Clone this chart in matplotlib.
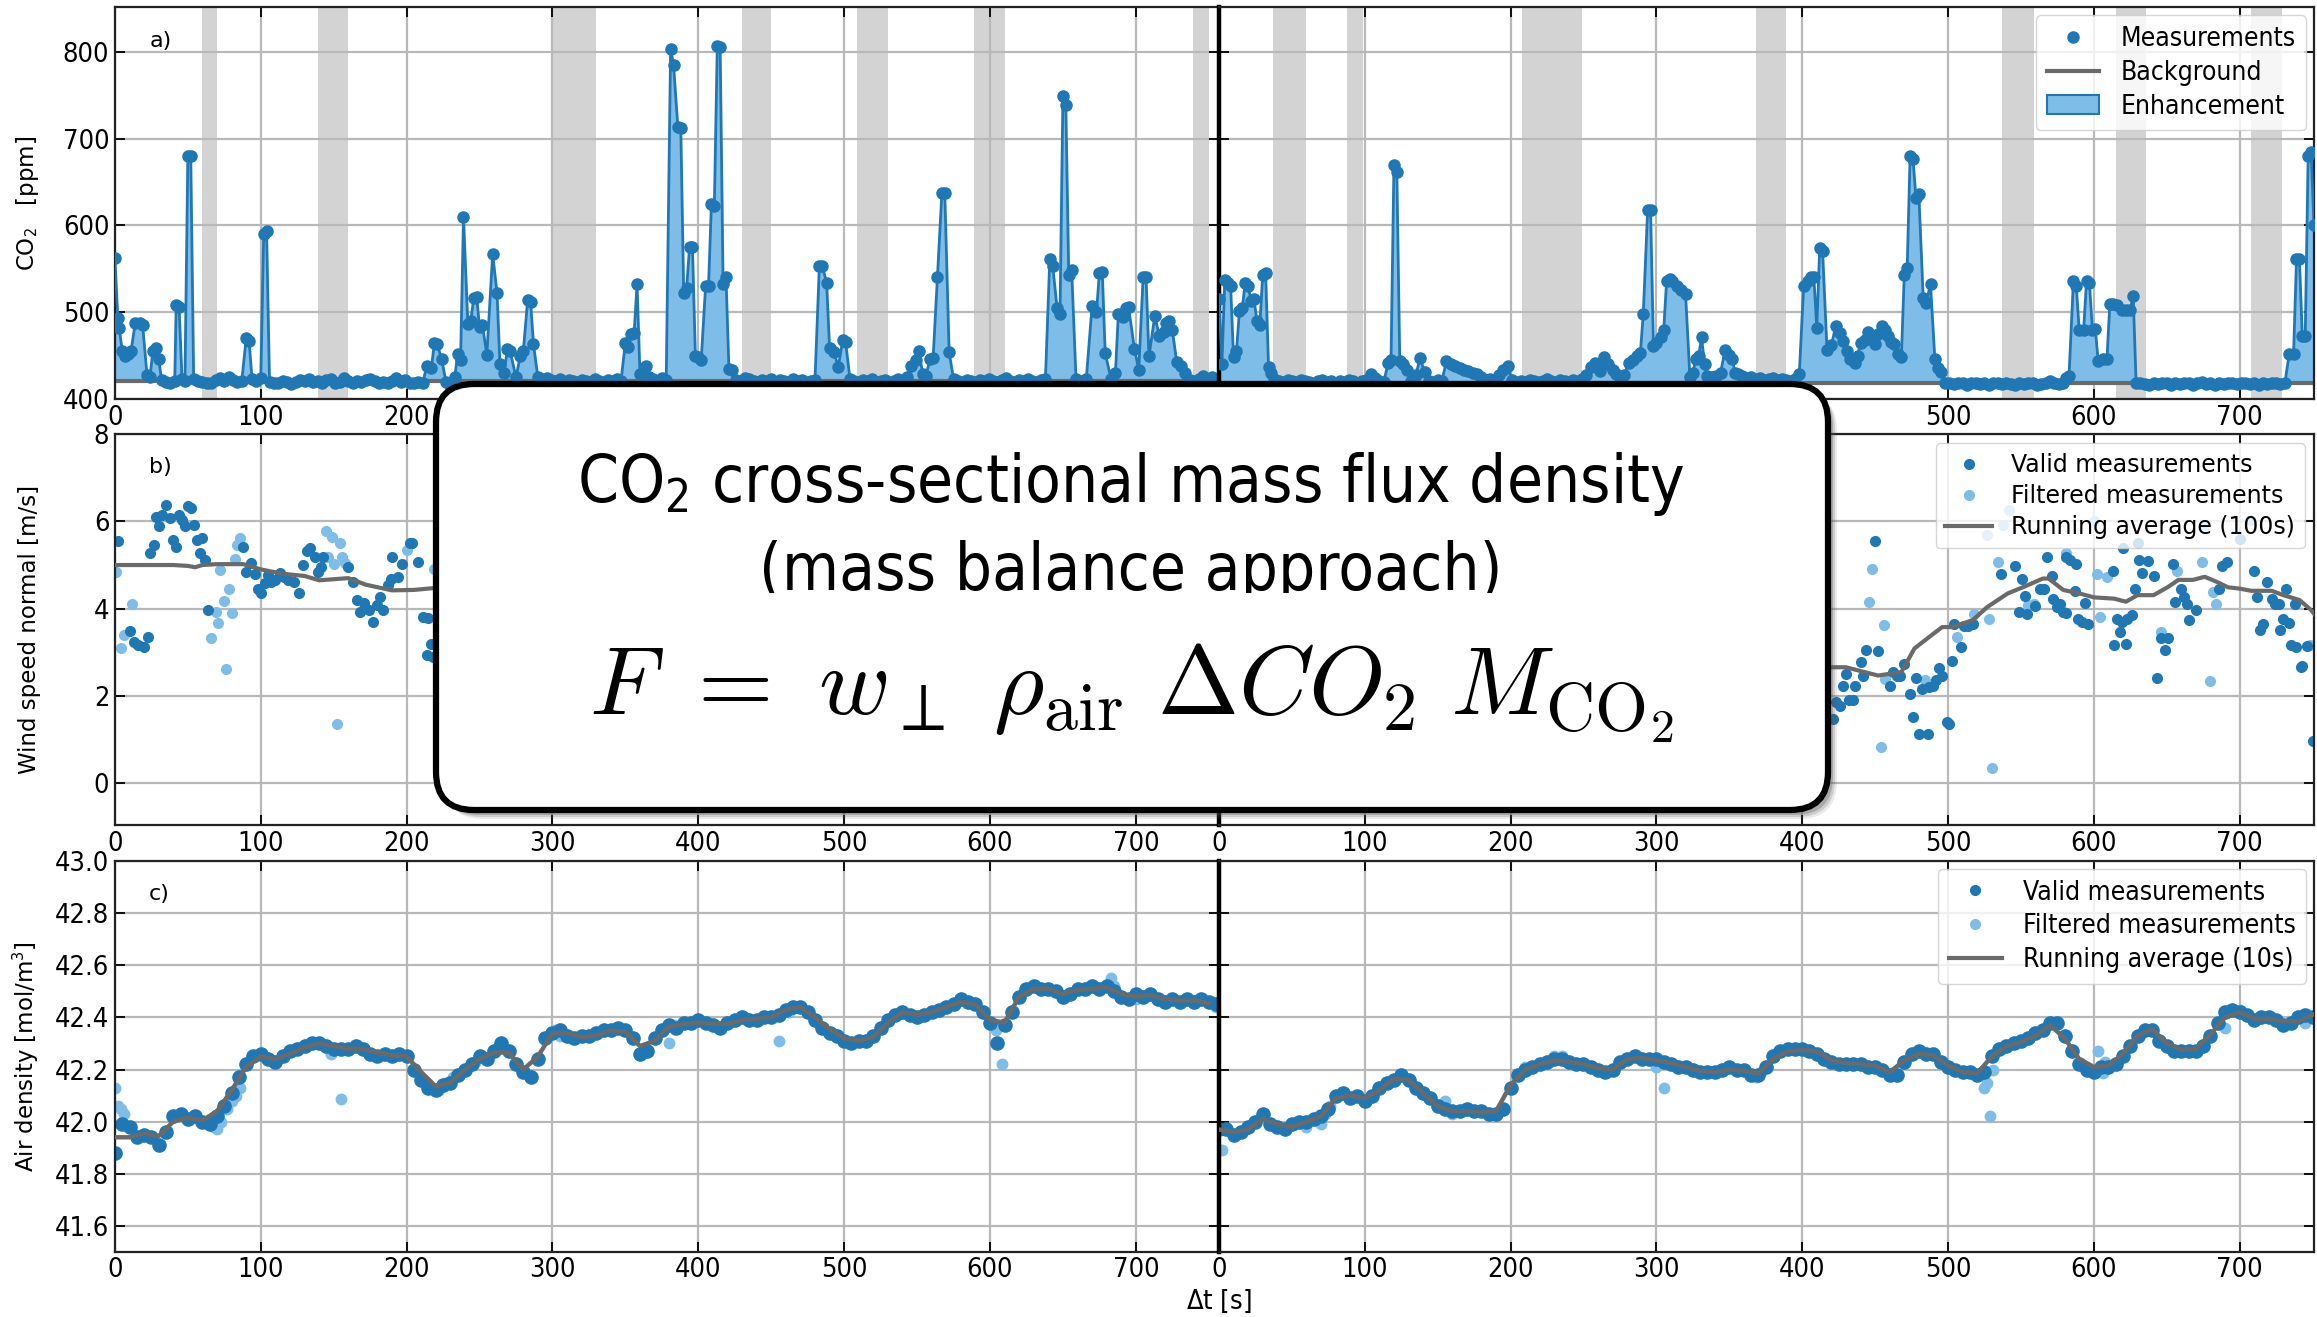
import matplotlib
matplotlib.use("Agg")
import matplotlib.pyplot as plt
import numpy as np
from matplotlib.lines import Line2D
from matplotlib.patches import Patch, FancyBboxPatch, Rectangle

plt.rcParams['font.family'] = ['DejaVu Sans']
plt.rcParams['font.stretch'] = 'condensed'
plt.rcParams['mathtext.fontset'] = 'custom'
plt.rcParams['mathtext.rm'] = 'DejaVu Sans:stretch=condensed'
plt.rcParams['mathtext.it'] = 'DejaVu Sans:stretch=condensed:style=oblique'
plt.rcParams['mathtext.bf'] = 'DejaVu Sans:stretch=condensed:weight=bold'

# ---------------- data ----------------
xmax_left = 757
xmax_right = 751

# panel a) CO2 [ppm]
co2_t_left = [0, 2, 3, 5, 7, 9, 11, 14, 17, 19, 22, 24, 26, 28, 30, 32, 35, 38, 41, 42, 44, 46, 48, 50, 52, 54,
              57, 60, 63, 66, 69, 72, 75, 78, 81, 84, 87, 90, 92, 94, 97, 100, 102, 104, 106, 109, 112, 115, 118,
              121, 124, 127, 130, 133, 136, 139, 142, 145, 148, 151, 154, 157, 160, 163, 166, 169, 172, 175, 178,
              181, 184, 187, 190, 193, 196, 199, 202, 205, 208, 211, 214, 217, 219, 221, 224, 227, 230, 233, 235,
              237, 239, 242, 244, 246, 248, 250, 252, 255, 259, 262, 264, 267, 269, 271, 275, 278, 280, 283, 285,
              287, 290, 293, 296, 299, 302, 305, 308, 311, 314, 317, 320, 323, 326, 329, 332, 335, 338, 341, 344,
              347, 350, 352, 354, 356, 358, 360, 362, 364, 366, 369, 372, 375, 378, 381, 383, 386, 388, 390, 392,
              394, 396, 398, 400, 402, 405, 407, 409, 411, 413, 415, 417, 419, 421, 423, 426, 429, 432, 435, 438,
              441, 444, 447, 450, 453, 456, 459, 462, 465, 468, 471, 474, 477, 480, 483, 485, 488, 490, 493, 496,
              499, 501, 504, 507, 510, 513, 516, 519, 522, 525, 528, 531, 534, 537, 540, 543, 546, 549, 551, 554,
              556, 559, 561, 564, 567, 569, 572, 575, 578, 581, 584, 587, 590, 593, 596, 599, 602, 605, 608, 611,
              614, 617, 620, 623, 626, 629, 632, 635, 638, 641, 643, 646, 648, 650, 652, 654, 656, 659, 662, 666,
              670, 673, 675, 677, 679, 683, 686, 688, 691, 693, 695, 699, 702, 705, 707, 709, 713, 716, 719, 721,
              723, 725, 728, 731, 734, 737, 740, 743, 746, 749, 752, 755]
co2_v_left = [562, 493, 482, 455, 450, 452, 455, 488, 487, 485, 428, 425, 455, 459, 446, 422, 420, 419, 421, 508,
              506, 423, 421, 680, 680, 423, 421, 420, 418, 419, 422, 424, 421, 425, 422, 420, 421, 470, 467, 423,
              421, 424, 590, 593, 420, 419, 418, 421, 420, 417, 420, 422, 421, 423, 420, 421, 419, 422, 423, 418,
              420, 424, 421, 419, 421, 420, 422, 423, 421, 419, 420, 418, 421, 424, 420, 422, 419, 418, 420, 419,
              438, 436, 464, 463, 446, 420, 416, 425, 452, 445, 610, 486, 490, 516, 518, 483, 485, 451, 567, 522,
              440, 430, 458, 455, 425, 450, 455, 514, 512, 463, 425, 423, 424, 422, 421, 423, 420, 422, 421, 420,
              422, 421, 420, 423, 421, 420, 422, 421, 423, 421, 465, 460, 475, 476, 533, 429, 430, 438, 425, 423,
              421, 424, 422, 803, 785, 713, 712, 522, 528, 575, 575, 450, 448, 445, 530, 530, 625, 622, 806, 805,
              532, 540, 435, 433, 422, 421, 424, 423, 421, 420, 422, 421, 423, 420, 422, 421, 420, 423, 421, 422,
              420, 421, 422, 553, 553, 534, 459, 454, 437, 468, 466, 423, 421, 420, 422, 421, 423, 420, 421, 422,
              420, 421, 423, 421, 425, 438, 445, 455, 429, 427, 446, 447, 541, 637, 637, 454, 423, 421, 420, 422,
              421, 420, 422, 421, 423, 421, 420, 422, 424, 421, 420, 422, 421, 423, 421, 420, 422, 423, 561, 553,
              505, 498, 749, 739, 543, 549, 423, 421, 423, 507, 500, 545, 546, 453, 423, 430, 498, 494, 505, 506,
              458, 434, 540, 540, 449, 496, 473, 477, 488, 490, 480, 443, 438, 430, 422, 421, 423, 427, 421, 425,
              423]
co2_t_right = [0, 2, 4, 6, 8, 10, 12, 14, 16, 18, 20, 22, 24, 26, 28, 30, 32, 34, 36, 38, 41, 44, 47, 50, 53, 56,
               59, 62, 65, 68, 71, 74, 77, 80, 83, 86, 89, 92, 95, 98, 101, 104, 107, 110, 113, 116, 118, 120, 122,
               124, 126, 129, 132, 135, 138, 141, 144, 147, 150, 153, 156, 159, 162, 165, 168, 171, 174, 177, 180,
               183, 186, 189, 192, 195, 198, 201, 204, 207, 210, 213, 216, 219, 222, 225, 228, 231, 234, 237, 240,
               243, 246, 249, 252, 255, 258, 261, 264, 267, 270, 272, 275, 278, 281, 284, 287, 289, 291, 294, 296,
               298, 300, 303, 305, 307, 309, 311, 314, 317, 320, 323, 325, 327, 329, 331, 333, 335, 338, 341, 344,
               347, 350, 352, 354, 356, 359, 362, 365, 368, 371, 374, 377, 380, 383, 386, 389, 392, 395, 398, 401,
               404, 406, 408, 410, 412, 414, 417, 420, 423, 426, 428, 431, 433, 436, 438, 440, 443, 445, 448, 450,
               452, 455, 457, 459, 461, 463, 466, 468, 470, 472, 474, 476, 478, 480, 483, 485, 488, 491, 493, 495,
               498, 501, 504, 507, 510, 513, 516, 519, 522, 525, 528, 531, 534, 537, 540, 543, 546, 549, 552, 555,
               558, 561, 564, 567, 570, 573, 576, 579, 581, 583, 586, 588, 590, 593, 595, 597, 599, 601, 603, 606,
               609, 611, 613, 616, 619, 622, 625, 627, 629, 632, 635, 638, 641, 644, 647, 650, 653, 656, 659, 662,
               665, 668, 671, 674, 677, 680, 683, 686, 689, 692, 695, 698, 701, 704, 707, 710, 713, 716, 719, 722,
               725, 728, 731, 734, 737, 739, 741, 743, 745, 747, 749, 751]
co2_v_right = [515, 440, 537, 534, 530, 448, 455, 501, 505, 534, 530, 513, 515, 490, 485, 543, 545, 437, 430, 423,
               421, 420, 422, 421, 420, 422, 421, 420, 419, 421, 422, 420, 421, 419, 421, 420, 422, 421, 419, 421,
               422, 429, 424, 421, 420, 441, 445, 670, 661, 444, 440, 434, 421, 428, 447, 431, 421, 420, 422, 421,
               444, 440, 438, 436, 434, 432, 430, 429, 425, 422, 423, 421, 428, 433, 438, 422, 420, 421, 420, 422,
               421, 420, 421, 423, 421, 420, 422, 421, 420, 422, 421, 423, 428, 437, 441, 432, 448, 440, 433, 429,
               425, 428, 442, 445, 450, 453, 498, 618, 618, 461, 465, 471, 479, 536, 538, 536, 530, 526, 521, 425,
               430, 446, 450, 471, 440, 427, 425, 426, 430, 456, 451, 446, 430, 429, 426, 424, 425, 423, 424, 422,
               423, 424, 422, 423, 422, 421, 423, 429, 530, 536, 540, 540, 482, 574, 570, 457, 462, 484, 476, 467,
               455, 446, 442, 450, 465, 468, 477, 470, 463, 475, 484, 479, 473, 466, 463, 452, 448, 543, 551, 680,
               676, 632, 636, 516, 511, 532, 446, 436, 431, 419, 418, 417, 419, 418, 416, 418, 419, 417, 418, 416,
               418, 419, 417, 418, 417, 416, 418, 417, 419, 418, 416, 417, 418, 421, 418, 417, 419, 424, 427, 536,
               530, 479, 479, 536, 534, 480, 481, 444, 446, 446, 510, 510, 508, 503, 503, 503, 519, 419, 418, 417,
               416, 418, 417, 419, 418, 416, 418, 417, 419, 418, 416, 418, 420, 417, 418, 416, 418, 417, 419, 418,
               417, 419, 418, 417, 418, 416, 418, 417, 418, 419, 417, 418, 452, 452, 561, 561, 473, 473, 680, 685,
               600]
co2_bg_left = 421.0
co2_bg_right = 419.0
# excluded intervals (grey bands) [s]
gaps_left = [(60, 70), (139, 160), (300, 330), (430, 450), (509, 530), (589, 610), (739, 750)]
gaps_right = [(37, 60), (88, 99), (208, 249), (368, 389), (537, 559), (615, 636), (708, 729)]

# panel b) wind speed normal [m/s]
ws_valid_t_left = [2, 10, 13, 16, 20, 23, 24, 27, 28, 30, 32, 35, 38, 40, 42, 44, 46, 48, 50, 52, 54, 56, 58, 60,
                   62, 64, 88, 90, 93, 96, 98, 100, 103, 105, 107, 110, 113, 116, 119, 123, 126, 129, 132, 134,
                   137, 139, 141, 143, 160, 163, 166, 168, 171, 174, 177, 180, 182, 184, 187, 189, 190, 194, 197,
                   202, 204, 208, 211, 214, 215, 217, 218, 235, 260, 290]
ws_valid_v_left = [5.54, 3.5, 3.24, 3.16, 3.12, 3.35, 5.27, 5.46, 6.1, 5.9, 6.15, 6.38, 6.07, 5.57, 5.42, 6.15,
                   6.03, 5.9, 6.36, 6.3, 5.92, 5.57, 5.27, 5.61, 5.11, 3.98, 5.42, 4.85, 5.04, 4.8, 4.46, 4.35,
                   4.58, 4.77, 4.62, 4.66, 4.81, 4.73, 4.66, 4.6, 4.36, 5.0, 5.31, 5.38, 5.19, 4.85, 4.96, 5.19,
                   4.96, 4.6, 4.2, 3.93, 4.12, 3.97, 3.7, 4.08, 4.27, 3.97, 4.54, 4.69, 5.19, 4.73, 5.02, 5.5, 5.5,
                   5.08, 3.8, 2.93, 3.78, 3.2, 2.9, 4.2, 4.6, 4.4]
ws_filt_t_left = [1, 4, 6, 12, 66, 69, 71, 72, 75, 76, 78, 80, 82, 84, 86, 145, 146, 149, 150, 152, 154, 156, 158,
                  200, 219]
ws_filt_v_left = [4.85, 3.09, 3.39, 4.1, 3.34, 3.93, 3.68, 4.89, 4.18, 2.63, 4.46, 3.9, 5.13, 5.46, 5.61, 5.77,
                  5.19, 5.65, 5.02, 1.35, 5.51, 5.19, 5.05, 5.34, 4.92]
ws_avg_t_left = [0, 20, 40, 50, 55, 60, 70, 88, 100, 115, 130, 140, 160, 172, 190, 205, 218, 240, 270, 300]
ws_avg_v_left = [5.0, 5.0, 5.0, 4.98, 4.95, 5.0, 5.02, 5.02, 4.9, 4.8, 4.75, 4.65, 4.7, 4.55, 4.42, 4.43, 4.47,
                 4.5, 4.5, 4.5]

ws_valid_t_right = [380, 400, 421, 423, 426, 428, 430, 432, 435, 436, 440, 442, 444, 450, 452, 460, 462, 465, 467,
                    470, 474, 476, 478, 480, 482, 486, 487, 490, 492, 494, 496, 499, 501, 503, 504, 509, 511, 514,
                    517, 536, 546, 549, 551, 553, 554, 560, 563, 566, 568, 571, 572, 575, 577, 579, 581, 581, 584,
                    587, 588, 589, 592, 594, 596, 613, 614, 616, 618, 619, 622, 623, 626, 628, 631, 633, 637, 641,
                    643, 646, 649, 651, 654, 656, 660, 662, 664, 665, 670, 686, 688, 691, 710, 712, 714, 716, 719,
                    722, 724, 727, 728, 730, 732, 734, 735, 738, 739, 742, 743, 746, 750, 620, 630, 700]
ws_valid_v_right = [2.5, 2.9, 1.48, 1.86, 1.78, 2.24, 2.51, 1.91, 1.91, 2.24, 2.78, 2.47, 3.05, 5.54, 3.03, 2.24,
                    2.55, 2.47, 2.45, 2.74, 2.05, 1.53, 2.42, 1.13, 2.17, 1.13, 2.21, 2.24, 2.36, 2.65, 2.47, 1.4,
                    1.36, 2.8, 3.66, 3.12, 3.6, 3.6, 3.66, 4.79, 4.98, 3.93, 4.67, 4.29, 3.87, 4.06, 4.46, 4.46,
                    5.19, 4.75, 4.23, 4.04, 4.1, 3.93, 3.9, 5.19, 5.11, 4.41, 5.02, 3.77, 3.7, 4.13, 3.66, 4.87,
                    3.16, 3.77, 3.47, 3.7, 3.2, 3.77, 3.85, 4.46, 5.11, 4.81, 5.1, 4.75, 2.42, 3.32, 3.06, 3.34, 5.02,
                    4.16, 4.46, 4.27, 4.1, 3.75, 3.98, 4.46, 4.98, 5.08, 4.87, 4.27, 3.51, 3.64, 4.6, 4.23, 4.1, 4.1,
                    3.51, 3.77, 4.46, 3.68, 3.16, 4.1, 3.12, 2.66, 2.7, 3.14, 0.98, 5.4, 5.5, 5.6]
ws_filt_t_right = [446, 448, 454, 456, 457, 484, 506, 518, 527, 528, 530, 534, 538, 542, 555, 559, 581, 600, 602,
                   604, 609, 646, 657, 674, 676, 680, 682, 684, 707, 748]
ws_filt_v_right = [4.16, 4.92, 0.83, 3.62, 2.4, 2.36, 3.35, 3.89, 5.69, 3.77, 0.35, 5.08, 5.92, 6.26, 4.08, 4.1,
                   5.27, 6.0, 4.79, 3.8, 4.73, 3.47, 4.87, 5.08, 5.92, 2.34, 4.39, 4.1, 6.03, 3.16]
ws_avg_t_right = [380, 400, 419, 430, 452, 468, 477, 487, 496, 503, 517, 527, 541, 552, 565, 569, 579, 590, 600,
                  614, 622, 630, 641, 651, 658, 668, 676, 684, 692, 700, 708, 722, 730, 741, 749, 753]
ws_avg_v_right = [2.7, 2.68, 2.66, 2.66, 2.47, 2.55, 3.09, 3.35, 3.58, 3.58, 3.74, 4.04, 4.35, 4.5, 4.69, 4.69,
                  4.43, 4.35, 4.26, 4.23, 4.16, 4.31, 4.31, 4.5, 4.66, 4.66, 4.73, 4.62, 4.49, 4.46, 4.41, 4.41,
                  4.31, 4.2, 3.97, 3.8]

# panel c) air density [mol/m3], valid values every 5 s, running average every 10 s
rho_valid_left = [41.88, 41.99, 41.98, 41.94, 41.95, 41.94, 41.91, 41.96, 42.02, 42.03, 42.01, 42.02, 42.00, 41.99,
                  42.02, 42.06, 42.11, 42.17, 42.22, 42.25, 42.26, 42.24, 42.23, 42.25, 42.27, 42.28, 42.29, 42.30,
                  42.30, 42.29, 42.28, 42.28, 42.28, 42.29, 42.28, 42.26, 42.25, 42.26, 42.25, 42.26, 42.25, 42.20,
                  42.16, 42.13, 42.12, 42.14, 42.15, 42.18, 42.20, 42.22, 42.25, 42.24, 42.27, 42.30, 42.27, 42.22,
                  42.19, 42.17, 42.24, 42.32, 42.34, 42.35, 42.33, 42.32, 42.33, 42.33, 42.34, 42.35, 42.35, 42.36,
                  42.35, 42.32, 42.26, 42.27, 42.32, 42.35, 42.37, 42.36, 42.38, 42.38, 42.39, 42.38, 42.37, 42.36,
                  42.38, 42.39, 42.40, 42.39, 42.39, 42.40, 42.40, 42.41, 42.43, 42.44, 42.44, 42.42, 42.39, 42.36,
                  42.34, 42.33, 42.31, 42.30, 42.31, 42.31, 42.33, 42.36, 42.39, 42.41, 42.42, 42.41, 42.40, 42.41,
                  42.42, 42.43, 42.44, 42.45, 42.47, 42.46, 42.45, 42.42, 42.38, 42.30, 42.37, 42.42, 42.48, 42.51,
                  42.52, 42.51, 42.51, 42.50, 42.48, 42.49, 42.51, 42.51, 42.52, 42.51, 42.52, 42.50, 42.48, 42.47,
                  42.49, 42.48, 42.49, 42.47, 42.46, 42.47, 42.46, 42.47, 42.46, 42.47, 42.46, 42.45]
rho_avg_left = [41.94, 41.94, 41.955, 41.945, 42.00, 42.015, 42.005, 42.04, 42.12, 42.21, 42.25, 42.24, 42.26,
                42.285, 42.30, 42.29, 42.28, 42.28, 42.265, 42.255, 42.25, 42.19, 42.135, 42.15, 42.20, 42.24,
                42.265, 42.265, 42.20, 42.25, 42.34, 42.34, 42.325, 42.33, 42.35, 42.345, 42.29, 42.31, 42.365,
                42.375, 42.38, 42.375, 42.375, 42.39, 42.395, 42.40, 42.43, 42.44, 42.40, 42.355, 42.32, 42.31,
                42.325, 42.38, 42.42, 42.41, 42.42, 42.44, 42.46, 42.45, 42.39, 42.38, 42.48, 42.51, 42.51, 42.49,
                42.505, 42.51, 42.515, 42.49, 42.48, 42.485, 42.47, 42.465, 42.465, 42.455]
rho_filt_t_left = [0, 2, 4, 6, 68, 70, 73, 77, 80, 83, 86, 148, 153, 155, 222, 226, 232, 247, 302, 305, 380, 383,
                   455, 462, 490, 560, 602, 604, 608, 683, 685, 700, 755]
rho_filt_v_left = [42.13, 42.06, 42.05, 42.03, 41.98, 41.97, 42.00, 42.05, 42.08, 42.10, 42.13, 42.26, 42.28,
                   42.085, 42.12, 42.15, 42.17, 42.23, 42.35, 42.33, 42.30, 42.37, 42.31, 42.42, 42.34, 42.42,
                   42.37, 42.35, 42.22, 42.55, 42.52, 42.47, 42.44]

rho_valid_right = [41.97, 41.97, 41.95, 41.96, 41.98, 42.00, 42.03, 41.99, 41.98, 41.97, 41.99, 42.00, 42.00,
                   42.01, 42.02, 42.05, 42.10, 42.11, 42.09, 42.10, 42.08, 42.10, 42.13, 42.15, 42.16, 42.18, 42.16,
                   42.13, 42.11, 42.09, 42.06, 42.05, 42.04, 42.04, 42.05, 42.04, 42.04, 42.03, 42.03, 42.05, 42.13,
                   42.18, 42.20, 42.21, 42.22, 42.23, 42.24, 42.24, 42.23, 42.22, 42.22, 42.21, 42.20, 42.19, 42.20,
                   42.23, 42.24, 42.25, 42.24, 42.24, 42.24, 42.23, 42.22, 42.21, 42.21, 42.20, 42.19, 42.19, 42.19,
                   42.20, 42.21, 42.20, 42.20, 42.18, 42.18, 42.21, 42.25, 42.27, 42.28, 42.28, 42.28, 42.27, 42.26,
                   42.24, 42.23, 42.22, 42.22, 42.22, 42.22, 42.21, 42.21, 42.20, 42.18, 42.18, 42.23, 42.26, 42.27,
                   42.26, 42.26, 42.23, 42.21, 42.20, 42.19, 42.19, 42.18, 42.19, 42.25, 42.28, 42.29, 42.30, 42.31,
                   42.32, 42.34, 42.35, 42.38, 42.38, 42.33, 42.27, 42.22, 42.20, 42.19, 42.21, 42.21, 42.22, 42.25,
                   42.29, 42.33, 42.35, 42.35, 42.31, 42.29, 42.27, 42.27, 42.27, 42.27, 42.29, 42.33, 42.38, 42.42,
                   42.43, 42.42, 42.41, 42.39, 42.40, 42.40, 42.39, 42.37, 42.38, 42.40, 42.41, 42.40]
rho_avg_right = [41.97, 41.96, 41.97, 42.01, 41.99, 41.98, 42.00, 42.02, 42.09, 42.10, 42.09, 42.12, 42.165, 42.16,
                 42.11, 42.06, 42.04, 42.04, 42.035, 42.04, 42.14, 42.20, 42.22, 42.235, 42.23, 42.22, 42.205,
                 42.20, 42.24, 42.245, 42.235, 42.225, 42.21, 42.195, 42.19, 42.20, 42.195, 42.185, 42.24, 42.27,
                 42.275, 42.27, 42.235, 42.225, 42.22, 42.215, 42.19, 42.235, 42.26, 42.255, 42.215, 42.19, 42.185,
                 42.25, 42.29, 42.305, 42.33, 42.37, 42.32, 42.24, 42.21, 42.215, 42.26, 42.33, 42.355, 42.30,
                 42.275, 42.28, 42.335, 42.40, 42.42, 42.395, 42.395, 42.385, 42.385, 42.41]
rho_filt_t_right = [2, 60, 70, 73, 76, 150, 155, 160, 210, 230, 235, 300, 305, 368, 372, 440, 463, 525, 527, 529,
                    531, 603, 606, 608, 690, 700, 745]
rho_filt_v_right = [41.89, 41.98, 41.99, 42.03, 42.06, 42.06, 42.08, 42.03, 42.21, 42.25, 42.25, 42.21, 42.13,
                    42.17, 42.19, 42.22, 42.18, 42.13, 42.15, 42.02, 42.20, 42.27, 42.185, 42.23, 42.36, 42.43,
                    42.38]

# ---------------- style ----------------
dark = '#1f77b4'
light = '#7fbde9'
avg_col = '#6a6a6a'
grid_col = '#b8b8b8'
gap_col = '#d3d3d3'

fig = plt.figure(figsize=(23.17, 13.17), dpi=100)

x_left, w_left = 0.0496, 0.4765
x_right, w_right = 0.5261, 0.4726
rows = [(0.697, 0.2974), (0.3736, 0.2969), (0.0494, 0.2968)]

axes = []
for bottom, height in rows:
    a_l = fig.add_axes([x_left, bottom, w_left, height])
    a_r = fig.add_axes([x_right, bottom, w_right, height])
    axes.append((a_l, a_r))


def style(ax, xmax, left):
    ax.set_xlim(0, xmax)
    ax.set_xticks(np.arange(0, xmax, 100))
    ax.grid(True, color=grid_col, lw=1.6)
    ax.set_axisbelow(True)
    ax.tick_params(direction='in', top=True, right=True, length=7, width=1.3, labelsize=19.5, pad=4)
    for s in ax.spines.values():
        s.set_linewidth(1.6)
        s.set_color('#222222')
    if left:
        ax.spines['right'].set_visible(False)
    else:
        ax.spines['left'].set_linewidth(3.2)
        ax.spines['left'].set_color('black')
        ax.tick_params(labelleft=False)


# panel a
for ax, t, v, bg, gaps, xmax, left in [
        (axes[0][0], co2_t_left, co2_v_left, co2_bg_left, gaps_left, xmax_left, True),
        (axes[0][1], co2_t_right, co2_v_right, co2_bg_right, gaps_right, xmax_right, False)]:
    for g0, g1 in gaps:
        ax.axvspan(g0, g1, color=gap_col, lw=0, zorder=0)
    ax.fill_between(t, bg, v, color=light, lw=0, zorder=2)
    ax.axhline(bg, color=avg_col, lw=3, zorder=2.5)
    ax.plot(t, v, color=dark, lw=2, zorder=3)
    ax.plot(t, v, 'o', color=dark, ms=8, zorder=3.5)
    style(ax, xmax, left)
    ax.set_ylim(400, 851)
    ax.set_yticks([400, 500, 600, 700, 800])

# panel b
for ax, vt, vv, ft, fv, at, av, xmax, left in [
        (axes[1][0], ws_valid_t_left, ws_valid_v_left, ws_filt_t_left, ws_filt_v_left,
         ws_avg_t_left, ws_avg_v_left, xmax_left, True),
        (axes[1][1], ws_valid_t_right, ws_valid_v_right, ws_filt_t_right, ws_filt_v_right,
         ws_avg_t_right, ws_avg_v_right, xmax_right, False)]:
    ax.plot(ft, fv, 'o', color=light, ms=7, zorder=2)
    ax.plot(vt, vv, 'o', color=dark, ms=7, zorder=2.5)
    ax.plot(at, av, color=avg_col, lw=3, zorder=3)
    style(ax, xmax, left)
    ax.set_ylim(-0.95, 8)
    ax.set_yticks([0, 2, 4, 6, 8])

# panel c
for ax, vals, avg, ft, fv, xmax, left in [
        (axes[2][0], rho_valid_left, rho_avg_left, rho_filt_t_left, rho_filt_v_left, xmax_left, True),
        (axes[2][1], rho_valid_right, rho_avg_right, rho_filt_t_right, rho_filt_v_right, xmax_right, False)]:
    ax.plot(ft, fv, 'o', color=light, ms=7.5, zorder=2)
    ax.plot(np.arange(len(vals)) * 5, vals, 'o', color=dark, ms=9.5, zorder=2.5)
    ax.plot(np.arange(len(avg)) * 10, avg, color=avg_col, lw=3.2, zorder=3)
    style(ax, xmax, left)
    ax.set_ylim(41.5, 43.0)
    ax.set_yticks(np.arange(41.6, 43.01, 0.2))
    ax.set_yticklabels(['%.1f' % y for y in np.arange(41.6, 43.01, 0.2)])

# y labels and panel letters
ylabels = ['CO$_2$   [ppm]', 'Wind speed normal [m/s]', 'Air density [mol/m$^3$]']
for (a_l, a_r), lab, letter in zip(axes, ylabels, ['a)', 'b)', 'c)']):
    a_l.set_ylabel(lab, family='DejaVu Sans', fontstretch='normal', fontsize=16.5, math_fontfamily='dejavusans')
    a_l.yaxis.set_label_coords(-0.067, 0.5)
    a_l.text(0.031, 0.915, letter, transform=a_l.transAxes, fontsize=16, fontstretch='normal', va='center')

# legends
leg_a = [Line2D([], [], marker='o', ls='none', color=dark, ms=8),
         Line2D([], [], color=avg_col, lw=3),
         Patch(facecolor=light, edgecolor=dark, lw=1.5)]
axes[0][1].legend(leg_a, ['Measurements', 'Background', 'Enhancement'], loc='upper right', fontsize=19,
                  framealpha=0.8, borderaxespad=0.3, handlelength=2.0, labelspacing=0.3)
leg_b = [Line2D([], [], marker='o', ls='none', color=dark, ms=7),
         Line2D([], [], marker='o', ls='none', color=light, ms=7),
         Line2D([], [], color=avg_col, lw=3)]
axes[1][1].legend(leg_b, ['Valid measurements', 'Filtered measurements', 'Running average (100s)'],
                  loc='upper right', prop={'family': 'DejaVu Sans', 'stretch': 'normal', 'size': 17},
                  framealpha=0.8, borderaxespad=0.4, handlelength=2.0, labelspacing=0.3)
axes[2][1].legend(leg_b, ['Valid measurements', 'Filtered measurements', 'Running average (10s)'],
                  loc='upper right', fontsize=19, framealpha=0.8, borderaxespad=0.3, handlelength=2.0,
                  labelspacing=0.3)

fig.text(1219 / 2317, 0.012, r'$\Delta$t [s]', ha='center', va='center', fontsize=19.5)

# overlay box with formula (pixel coordinates)
ov = fig.add_axes([0, 0, 1, 1], zorder=10)
ov.set_xlim(0, 2317)
ov.set_ylim(1317, 0)
ov.axis('off')
bx0, by0, bw, bh = 436, 384, 1392, 426
for off, al in [(9, 0.12), (7, 0.2), (5, 0.3)]:
    ov.add_patch(FancyBboxPatch((bx0 + off, by0 + off), bw, bh, boxstyle='round,pad=0,rounding_size=38',
                                fc='#555555', ec='none', alpha=al))
ov.add_patch(FancyBboxPatch((bx0, by0), bw, bh, boxstyle='round,pad=0,rounding_size=38',
                            fc='white', ec='black', lw=4.5))
ov.text(1131, 502, 'CO$_2$ cross-sectional mass flux density', ha='center', va='baseline', fontsize=47)
ov.text(1131, 590, '(mass balance approach)', ha='center', va='baseline', fontsize=47)
ov.add_patch(Rectangle((bx0 + 10, 593), bw - 20, 200, fc='white', ec='none', zorder=3))
ov.text(1131, 715, r'$F\ =\ w_{\perp}\ \rho_{\mathrm{air}}\ \Delta CO_2\ M_{\mathrm{CO}_2}$',
        ha='center', va='baseline', fontsize=70, math_fontfamily='cm', zorder=4)

fig.savefig('out.png', dpi=100)
